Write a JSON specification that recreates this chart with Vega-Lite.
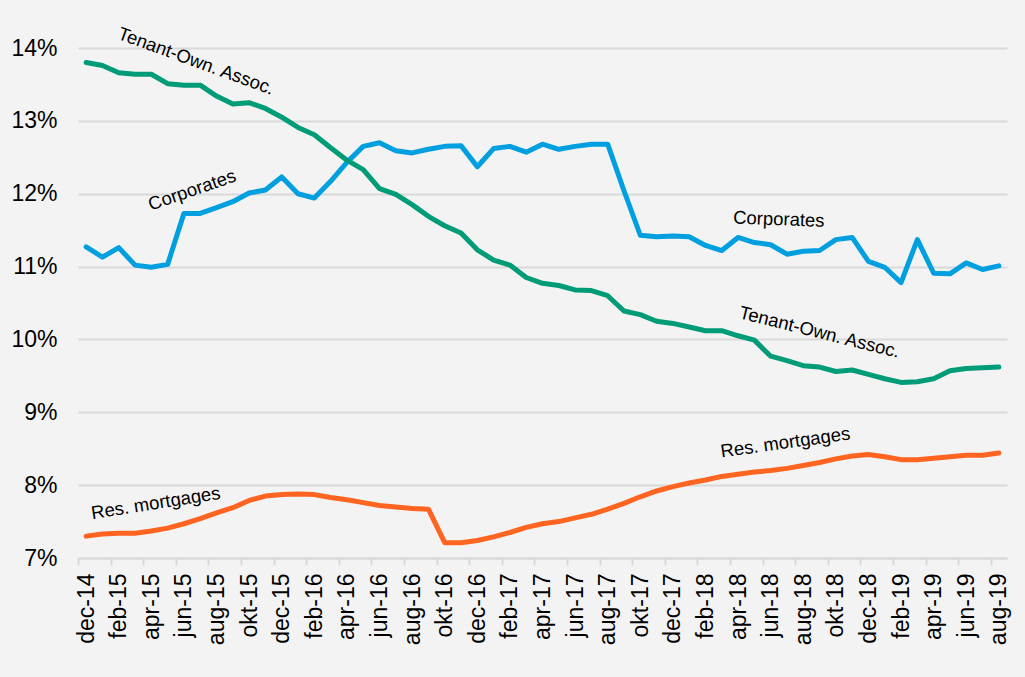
{
  "$schema": "https://vega.github.io/schema/vega-lite/v6.json",
  "autosize": "none",
  "width": 929,
  "height": 510,
  "padding": {"left": 78, "top": 48, "right": 18, "bottom": 119},
  "background": "#f3f3f3",
  "config": {
    "view": {"stroke": null},
    "font": "Liberation Sans",
    "axis": {"labelOverlap": false},
    "text": {"font": "Liberation Sans", "fontSize": 18.5, "color": "#000000", "align": "center", "baseline": "middle"}
  },
  "datasets": {
    "rates": [
      {"i": 0, "month": "dec-14", "corporates": 11.27, "tenantOwn": 13.80, "mortgages": 7.30},
      {"i": 1, "month": "jan-15", "corporates": 11.13, "tenantOwn": 13.76, "mortgages": 7.33},
      {"i": 2, "month": "feb-15", "corporates": 11.26, "tenantOwn": 13.66, "mortgages": 7.34},
      {"i": 3, "month": "mar-15", "corporates": 11.02, "tenantOwn": 13.64, "mortgages": 7.34},
      {"i": 4, "month": "apr-15", "corporates": 10.99, "tenantOwn": 13.64, "mortgages": 7.37},
      {"i": 5, "month": "maj-15", "corporates": 11.03, "tenantOwn": 13.51, "mortgages": 7.41},
      {"i": 6, "month": "jun-15", "corporates": 11.73, "tenantOwn": 13.49, "mortgages": 7.47},
      {"i": 7, "month": "jul-15", "corporates": 11.73, "tenantOwn": 13.49, "mortgages": 7.54},
      {"i": 8, "month": "aug-15", "corporates": 11.81, "tenantOwn": 13.34, "mortgages": 7.62},
      {"i": 9, "month": "sep-15", "corporates": 11.89, "tenantOwn": 13.23, "mortgages": 7.69},
      {"i": 10, "month": "okt-15", "corporates": 12.01, "tenantOwn": 13.25, "mortgages": 7.79},
      {"i": 11, "month": "nov-15", "corporates": 12.05, "tenantOwn": 13.17, "mortgages": 7.85},
      {"i": 12, "month": "dec-15", "corporates": 12.23, "tenantOwn": 13.05, "mortgages": 7.87},
      {"i": 13, "month": "jan-16", "corporates": 12.00, "tenantOwn": 12.91, "mortgages": 7.88},
      {"i": 14, "month": "feb-16", "corporates": 11.94, "tenantOwn": 12.81, "mortgages": 7.87},
      {"i": 15, "month": "mar-16", "corporates": 12.17, "tenantOwn": 12.63, "mortgages": 7.83},
      {"i": 16, "month": "apr-16", "corporates": 12.43, "tenantOwn": 12.46, "mortgages": 7.80},
      {"i": 17, "month": "maj-16", "corporates": 12.65, "tenantOwn": 12.33, "mortgages": 7.76},
      {"i": 18, "month": "jun-16", "corporates": 12.70, "tenantOwn": 12.07, "mortgages": 7.72},
      {"i": 19, "month": "jul-16", "corporates": 12.59, "tenantOwn": 11.99, "mortgages": 7.70},
      {"i": 20, "month": "aug-16", "corporates": 12.56, "tenantOwn": 11.85, "mortgages": 7.68},
      {"i": 21, "month": "sep-16", "corporates": 12.61, "tenantOwn": 11.69, "mortgages": 7.67},
      {"i": 22, "month": "okt-16", "corporates": 12.65, "tenantOwn": 11.56, "mortgages": 7.21},
      {"i": 23, "month": "nov-16", "corporates": 12.66, "tenantOwn": 11.46, "mortgages": 7.21},
      {"i": 24, "month": "dec-16", "corporates": 12.37, "tenantOwn": 11.23, "mortgages": 7.24},
      {"i": 25, "month": "jan-17", "corporates": 12.62, "tenantOwn": 11.09, "mortgages": 7.29},
      {"i": 26, "month": "feb-17", "corporates": 12.65, "tenantOwn": 11.02, "mortgages": 7.35},
      {"i": 27, "month": "mar-17", "corporates": 12.57, "tenantOwn": 10.85, "mortgages": 7.42},
      {"i": 28, "month": "apr-17", "corporates": 12.68, "tenantOwn": 10.77, "mortgages": 7.47},
      {"i": 29, "month": "maj-17", "corporates": 12.61, "tenantOwn": 10.74, "mortgages": 7.50},
      {"i": 30, "month": "jun-17", "corporates": 12.65, "tenantOwn": 10.68, "mortgages": 7.55},
      {"i": 31, "month": "jul-17", "corporates": 12.68, "tenantOwn": 10.67, "mortgages": 7.60},
      {"i": 32, "month": "aug-17", "corporates": 12.68, "tenantOwn": 10.60, "mortgages": 7.67},
      {"i": 33, "month": "sep-17", "corporates": 12.04, "tenantOwn": 10.39, "mortgages": 7.75},
      {"i": 34, "month": "okt-17", "corporates": 11.43, "tenantOwn": 10.34, "mortgages": 7.84},
      {"i": 35, "month": "nov-17", "corporates": 11.41, "tenantOwn": 10.25, "mortgages": 7.92},
      {"i": 36, "month": "dec-17", "corporates": 11.42, "tenantOwn": 10.22, "mortgages": 7.98},
      {"i": 37, "month": "jan-18", "corporates": 11.41, "tenantOwn": 10.17, "mortgages": 8.03},
      {"i": 38, "month": "feb-18", "corporates": 11.29, "tenantOwn": 10.12, "mortgages": 8.07},
      {"i": 39, "month": "mar-18", "corporates": 11.22, "tenantOwn": 10.12, "mortgages": 8.12},
      {"i": 40, "month": "apr-18", "corporates": 11.40, "tenantOwn": 10.05, "mortgages": 8.15},
      {"i": 41, "month": "maj-18", "corporates": 11.33, "tenantOwn": 9.99, "mortgages": 8.18},
      {"i": 42, "month": "jun-18", "corporates": 11.30, "tenantOwn": 9.77, "mortgages": 8.20},
      {"i": 43, "month": "jul-18", "corporates": 11.17, "tenantOwn": 9.71, "mortgages": 8.23},
      {"i": 44, "month": "aug-18", "corporates": 11.21, "tenantOwn": 9.64, "mortgages": 8.27},
      {"i": 45, "month": "sep-18", "corporates": 11.22, "tenantOwn": 9.62, "mortgages": 8.31},
      {"i": 46, "month": "okt-18", "corporates": 11.37, "tenantOwn": 9.56, "mortgages": 8.36},
      {"i": 47, "month": "nov-18", "corporates": 11.40, "tenantOwn": 9.58, "mortgages": 8.40},
      {"i": 48, "month": "dec-18", "corporates": 11.07, "tenantOwn": 9.52, "mortgages": 8.42},
      {"i": 49, "month": "jan-19", "corporates": 10.99, "tenantOwn": 9.46, "mortgages": 8.39},
      {"i": 50, "month": "feb-19", "corporates": 10.78, "tenantOwn": 9.41, "mortgages": 8.35},
      {"i": 51, "month": "mar-19", "corporates": 11.37, "tenantOwn": 9.42, "mortgages": 8.35},
      {"i": 52, "month": "apr-19", "corporates": 10.91, "tenantOwn": 9.46, "mortgages": 8.37},
      {"i": 53, "month": "maj-19", "corporates": 10.90, "tenantOwn": 9.57, "mortgages": 8.39},
      {"i": 54, "month": "jun-19", "corporates": 11.05, "tenantOwn": 9.60, "mortgages": 8.41},
      {"i": 55, "month": "jul-19", "corporates": 10.96, "tenantOwn": 9.61, "mortgages": 8.41},
      {"i": 56, "month": "aug-19", "corporates": 11.01, "tenantOwn": 9.62, "mortgages": 8.44}
    ]
  },
  "encoding": {
    "x": {
      "field": "i", "type": "quantitative",
      "scale": {"domain": [-0.5, 56.5], "nice": false, "zero": false},
      "axis": {
        "title": null,
        "grid": false,
        "values": [0, 2, 4, 6, 8, 10, 12, 14, 16, 18, 20, 22, 24, 26, 28, 30, 32, 34, 36, 38, 40, 42, 44, 46, 48, 50, 52, 54, 56],
        "labelExpr": "['jan','feb','mar','apr','maj','jun','jul','aug','sep','okt','nov','dec'][(datum.value + 11) % 12] + '-' + (14 + floor((datum.value + 11) / 12))",
        "labelAngle": -90,
        "labelFontSize": 23,
        "labelFont": "Liberation Sans",
        "labelColor": "#000000",
        "labelPadding": 8,
        "labelOverlap": false,
        "labelFlush": false,
        "tickOffset": -8.15,
        "labelOffset": 8.15,
        "tickSize": 7,
        "tickWidth": 2,
        "tickColor": "#d9d9d9",
        "domainColor": "#d9d9d9",
        "domainWidth": 2
      }
    },
    "y": {
      "field": "rate", "type": "quantitative",
      "scale": {"domain": [7, 14], "nice": false, "zero": false},
      "axis": {
        "title": null,
        "values": [7, 8, 9, 10, 11, 12, 13, 14],
        "labelExpr": "datum.value + '%'",
        "labelFontSize": 23,
        "labelFont": "Liberation Sans",
        "labelColor": "#000000",
        "labelPadding": 21,
        "ticks": false,
        "domain": false,
        "grid": true,
        "gridColor": "#d9d9d9",
        "gridWidth": 2
      }
    }
  },
  "layer": [
    {
      "data": {"name": "rates"},
      "transform": [{"fold": ["corporates", "tenantOwn", "mortgages"], "as": ["series", "rate"]}],
      "mark": {"type": "line", "strokeWidth": 5, "strokeCap": "round", "strokeJoin": "round"},
      "encoding": {
        "color": {
          "field": "series", "type": "nominal",
          "scale": {"domain": ["corporates", "tenantOwn", "mortgages"], "range": ["#009fdf", "#009b77", "#ff6420"]},
          "legend": null
        }
      }
    },
    {
      "data": {"values": [{"label": "Tenant-Own. Assoc.", "i": 6.75, "rate": 13.82}]},
      "mark": {"type": "text", "angle": 20},
      "encoding": {"text": {"field": "label"}}
    },
    {
      "data": {"values": [{"label": "Corporates", "i": 6.5, "rate": 12.05}]},
      "mark": {"type": "text", "angle": -19},
      "encoding": {"text": {"field": "label"}}
    },
    {
      "data": {"values": [{"label": "Corporates", "i": 42.5, "rate": 11.65}]},
      "mark": {"type": "text", "angle": 2},
      "encoding": {"text": {"field": "label"}}
    },
    {
      "data": {"values": [{"label": "Tenant-Own. Assoc.", "i": 45.0, "rate": 10.1}]},
      "mark": {"type": "text", "angle": 14},
      "encoding": {"text": {"field": "label"}}
    },
    {
      "data": {"values": [{"label": "Res. mortgages", "i": 4.27, "rate": 7.755}]},
      "mark": {"type": "text", "angle": -9},
      "encoding": {"text": {"field": "label"}}
    },
    {
      "data": {"values": [{"label": "Res. mortgages", "i": 42.9, "rate": 8.586}]},
      "mark": {"type": "text", "angle": -8},
      "encoding": {"text": {"field": "label"}}
    }
  ]
}
